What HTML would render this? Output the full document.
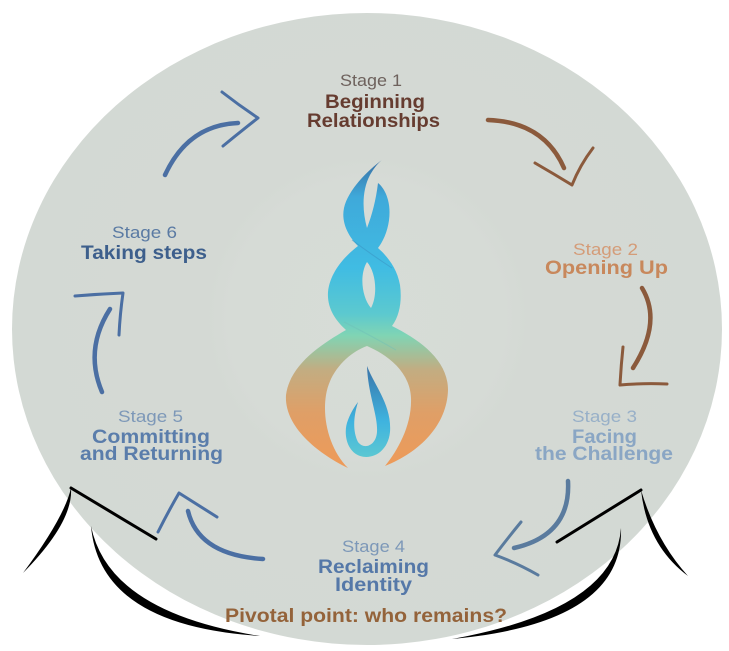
<!DOCTYPE html>
<html>
<head>
<meta charset="utf-8">
<style>
html,body{margin:0;padding:0;background:#ffffff;}
svg{display:block;}
text{font-family:"Liberation Sans","DejaVu Sans",sans-serif;text-anchor:middle;}
.lbl{font-size:17px;font-weight:normal;}
.b{font-size:19px;font-weight:bold;}
</style>
</head>
<body>
<svg width="729" height="651" viewBox="0 0 729 651" xmlns="http://www.w3.org/2000/svg">
<defs>
  <radialGradient id="bg" cx="367" cy="318" r="360" gradientUnits="userSpaceOnUse">
    <stop offset="0" stop-color="#d7dcd7"/>
    <stop offset="0.38" stop-color="#d6dbd6"/>
    <stop offset="0.45" stop-color="#d4d9d4"/>
    <stop offset="1" stop-color="#d3d9d4"/>
  </radialGradient>
  <linearGradient id="logo" x1="0" y1="160" x2="0" y2="468" gradientUnits="userSpaceOnUse">
    <stop offset="0" stop-color="#3a6fa3"/>
    <stop offset="0.12" stop-color="#3fa9da"/>
    <stop offset="0.35" stop-color="#40bce3"/>
    <stop offset="0.5" stop-color="#5cc9cf"/>
    <stop offset="0.57" stop-color="#80d4b4"/>
    <stop offset="0.68" stop-color="#c2ad82"/>
    <stop offset="0.82" stop-color="#df9f67"/>
    <stop offset="1" stop-color="#ee9a58"/>
  </linearGradient>
  <linearGradient id="drop" x1="0" y1="366" x2="0" y2="458" gradientUnits="userSpaceOnUse">
    <stop offset="0" stop-color="#3a74a8"/>
    <stop offset="0.6" stop-color="#3fb3df"/>
    <stop offset="1" stop-color="#5cc8d2"/>
  </linearGradient>
</defs>

<!-- main disc -->
<ellipse cx="367" cy="329" rx="355" ry="316" fill="url(#bg)"/>

<!-- black swooshes left -->
<path d="M91,526 Q99.6,625.7 260,636 Q108.4,612.3 91,526 Z" fill="#000"/>
<path d="M71,488 Q73.4,522 23,573 Q64.6,517 71,488 Z" fill="#000"/>
<line x1="71" y1="488" x2="156" y2="539" stroke="#000" stroke-width="3" stroke-linecap="round"/>

<!-- black swooshes right -->
<path d="M621,528 Q623.9,623.2 452,639 Q615.1,609.8 621,528 Z" fill="#000"/>
<path d="M641,490 Q655.9,540.6 688,576 Q647.1,545.4 641,490 Z" fill="#000"/>
<line x1="641" y1="490" x2="557" y2="542" stroke="#000" stroke-width="3" stroke-linecap="round"/>

<!-- arrows -->
<g fill="none" stroke-linecap="round" stroke-linejoin="round">
  <!-- 6 -> 1 -->
  <path d="M165,175 Q188,125 238,123" stroke="#4b6fa3" stroke-width="4.5"/>
  <path d="M222,92 Q240,106 258,118 Q240,132 223,146" stroke="#4b6fa3" stroke-width="3"/>
  <!-- 1 -> 2 -->
  <path d="M488,120 Q544,122 564,168" stroke="#8b5a3c" stroke-width="4.5"/>
  <path d="M535,163 Q554,174 572,185 Q580,165 593,148" stroke="#8b5a3c" stroke-width="3"/>
  <!-- 2 -> 3 -->
  <path d="M642,288 Q662.5,322 633,368" stroke="#8b5a3c" stroke-width="4.5"/>
  <path d="M623,347 Q621,366 620,385 Q643,383 667,384" stroke="#8b5a3c" stroke-width="3"/>
  <!-- 3 -> 4 -->
  <path d="M568,481 Q571,535 514,548" stroke="#5a7b9e" stroke-width="4.5"/>
  <path d="M521,522 Q507,539 495,555 Q517,563 538,575" stroke="#5a7b9e" stroke-width="3"/>
  <!-- 4 -> 5 -->
  <path d="M263,559 Q198.5,555 188,511" stroke="#4b6fa3" stroke-width="4.5"/>
  <path d="M158,532 Q168,512 179,493 Q198,505 217,517" stroke="#4b6fa3" stroke-width="3"/>
  <!-- 5 -> 6 -->
  <path d="M102,392 Q84,349.5 110,309" stroke="#4b6fa3" stroke-width="4.5"/>
  <path d="M75,296 Q99,294 123,293 Q120,314 119,335" stroke="#4b6fa3" stroke-width="3"/>
</g>

<!-- logo -->
<path fill="url(#logo)" fill-rule="evenodd" d="
M382,160
C368,170 348,190 344,208
C341,222 348,236 358,246
C345,256 330,272 328,292
C327,308 335,320 346,330
C320,345 290,365 286,395
C284,425 315,452 348,468
C330,450 322,420 326,395
C330,370 350,352 367,346
C388,355 410,372 411,398
C412,425 398,450 385,466
C420,452 447,425 448,390
C448,360 420,340 392,326
C400,315 402,300 400,285
C397,268 387,256 378,248
C388,235 392,215 388,200
C386,192 382,186 378,183
C376,200 372,215 367,228
C362,210 362,190 370,175
C374,168 378,163 382,160 Z
M367,262 C376,272 378,295 371,308 C362,298 359,275 367,262 Z"/>
<!-- subtle crossing lines -->
<path d="M352,240 Q372,255 392,268" fill="none" stroke="#3a8fc0" stroke-width="1" opacity="0.5"/>
<path d="M344,322 Q368,334 396,350" fill="none" stroke="#6fbfb8" stroke-width="1" opacity="0.5"/>

<!-- inner drop -->
<path fill="url(#drop)" d="M367,366 C374,385 392,405 390,432 C388,452 372,460 360,456 C346,451 343,432 348,420 C351,412 355,406 358,402 C354,415 352,430 358,442 C364,450 376,446 377,432 C378,415 368,395 367,366 Z"/>

<!-- Stage 1 -->
<text class="lbl" x="371" y="86" fill="#6e625d" textLength="62" lengthAdjust="spacingAndGlyphs">Stage 1</text>
<text class="b" x="375" y="108" fill="#663c30" textLength="100" lengthAdjust="spacingAndGlyphs">Beginning</text>
<text class="b" x="373.5" y="127" fill="#663c30" textLength="133" lengthAdjust="spacingAndGlyphs">Relationships</text>

<!-- Stage 2 -->
<text class="lbl" x="605.5" y="255" fill="#d49c78" textLength="65" lengthAdjust="spacingAndGlyphs">Stage 2</text>
<text class="b" x="606.5" y="274" fill="#c8885c" textLength="123" lengthAdjust="spacingAndGlyphs">Opening Up</text>

<!-- Stage 3 -->
<text class="lbl" x="604.5" y="422" fill="#98b0c8" textLength="65" lengthAdjust="spacingAndGlyphs">Stage 3</text>
<text class="b" x="604.5" y="443" fill="#8aa6c4" textLength="65" lengthAdjust="spacingAndGlyphs">Facing</text>
<text class="b" x="604" y="460" fill="#8aa6c4" textLength="138" lengthAdjust="spacingAndGlyphs">the Challenge</text>

<!-- Stage 4 -->
<text class="lbl" x="373.5" y="552" fill="#7d98b8" textLength="63" lengthAdjust="spacingAndGlyphs">Stage 4</text>
<text class="b" x="373.5" y="573" fill="#5578a8" textLength="111" lengthAdjust="spacingAndGlyphs">Reclaiming</text>
<text class="b" x="373.5" y="591" fill="#5578a8" textLength="77" lengthAdjust="spacingAndGlyphs">Identity</text>
<text class="b" x="366" y="622" fill="#94633a" textLength="282" lengthAdjust="spacingAndGlyphs">Pivotal point: who remains?</text>

<!-- Stage 5 -->
<text class="lbl" x="150.5" y="422" fill="#7d98b8" textLength="65" lengthAdjust="spacingAndGlyphs">Stage 5</text>
<text class="b" x="151" y="443" fill="#5a7dab" textLength="118" lengthAdjust="spacingAndGlyphs">Committing</text>
<text class="b" x="151.5" y="460" fill="#5a7dab" textLength="143" lengthAdjust="spacingAndGlyphs">and Returning</text>

<!-- Stage 6 -->
<text class="lbl" x="144.5" y="238" fill="#5a7aa3" textLength="65" lengthAdjust="spacingAndGlyphs">Stage 6</text>
<text class="b" x="144" y="259" fill="#3d5f8c" textLength="126" lengthAdjust="spacingAndGlyphs">Taking steps</text>
</svg>
</body>
</html>
